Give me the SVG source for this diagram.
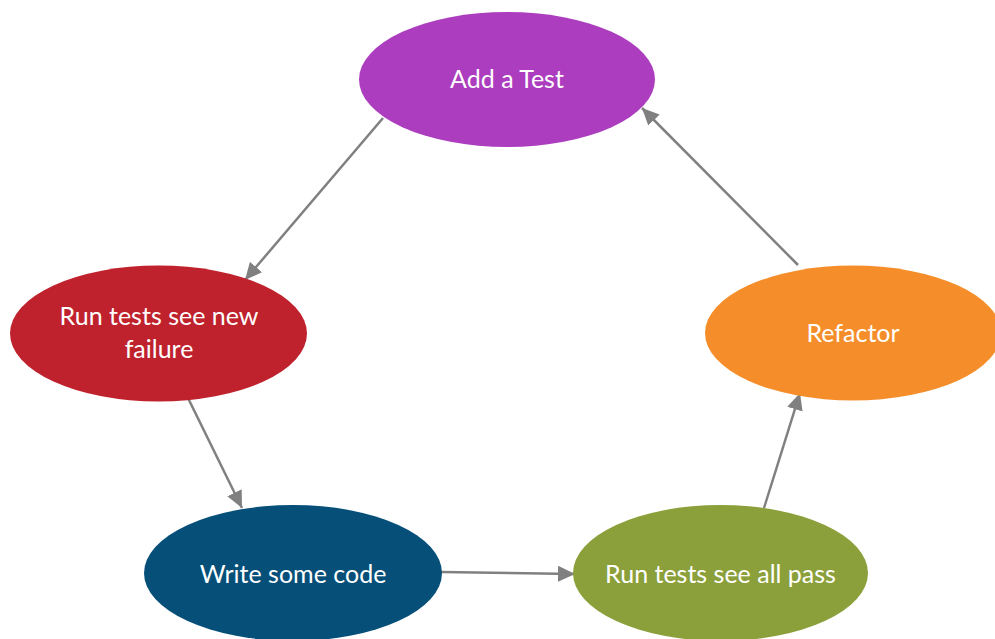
<svg xmlns="http://www.w3.org/2000/svg" width="995" height="639" viewBox="0 0 995 639">
<style>
.lbl{font-family:Lato,"Open Sans","Liberation Sans",sans-serif;font-size:25px;fill:#ffffff;text-anchor:middle}
.edge{stroke:#808080;stroke-width:2.5;fill:none;marker-end:url(#ah)}
</style>
<defs>
<marker id="ah" markerUnits="userSpaceOnUse" markerWidth="18" markerHeight="16" refX="17" refY="8" orient="auto">
<path d="M0,0 L17,8 L0,16 Z" fill="#808080"/>
</marker>
</defs>
<rect width="995" height="639" fill="#ffffff"/>
<g id="connectors">
<line class="edge" x1="383" y1="118" x2="245" y2="280"/>
<line class="edge" x1="188" y1="398" x2="242" y2="508"/>
<line class="edge" x1="441" y1="572" x2="575" y2="574"/>
<line class="edge" x1="764" y1="508" x2="800" y2="393"/>
<line class="edge" x1="798" y1="265" x2="642" y2="108"/>
</g>
<g id="add-test">
<ellipse cx="507" cy="79.5" rx="148" ry="67.5" fill="#AC3DBE"/>
<text class="lbl" x="507" y="88">Add a Test</text>
</g>
<g id="run-fail">
<ellipse cx="158.5" cy="333.5" rx="148.5" ry="68" fill="#BF222D"/>
<text class="lbl" x="159" y="325">Run tests see new</text>
<text class="lbl" x="159" y="358">failure</text>
</g>
<g id="write-code">
<ellipse cx="293" cy="573" rx="149" ry="68" fill="#064F79"/>
<text class="lbl" x="293" y="583">Write some code</text>
</g>
<g id="run-pass">
<ellipse cx="720.5" cy="573" rx="147.5" ry="68" fill="#8BA03A"/>
<text class="lbl" x="720.5" y="583">Run tests see all pass</text>
</g>
<g id="refactor">
<ellipse cx="853" cy="333" rx="148" ry="67.5" fill="#F58E2A"/>
<text class="lbl" x="853" y="342">Refactor</text>
</g>
</svg>
